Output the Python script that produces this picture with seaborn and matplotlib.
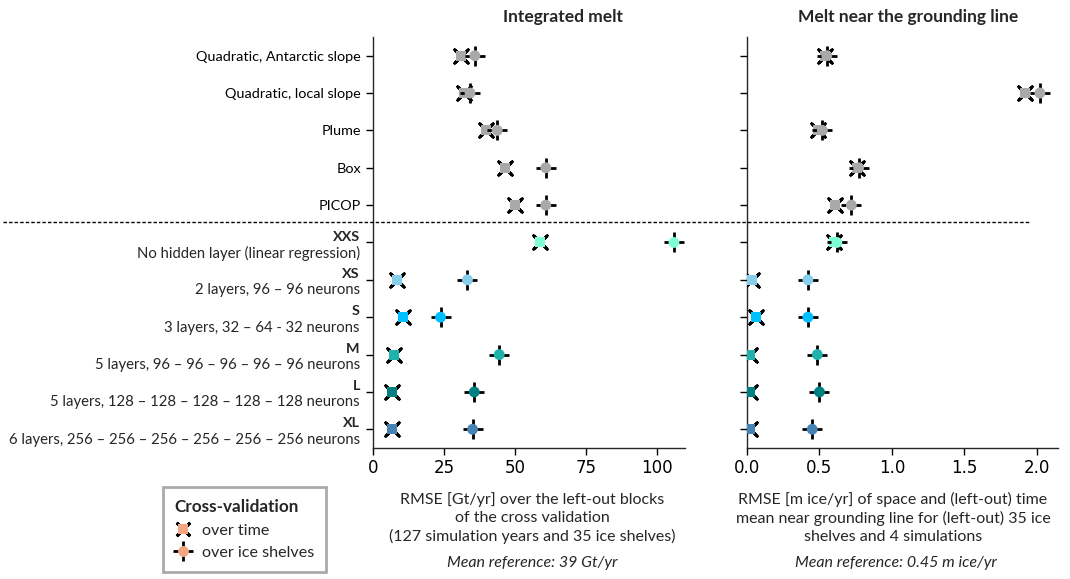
import numpy as np
import pandas as pd
import matplotlib
matplotlib.use("Agg")
import matplotlib.pyplot as plt
import seaborn as sns
from matplotlib import transforms
from matplotlib.lines import Line2D
from matplotlib.legend_handler import HandlerTuple

# ---------------- data ----------------
rows = ["Quadratic, Antarctic slope", "Quadratic, local slope", "Plume", "Box", "PICOP",
        "XXS", "XS", "S", "M", "L", "XL"]
nn_desc = ["No hidden layer (linear regression)",
           "2 layers, 96 \u2013 96 neurons",
           "3 layers, 32 \u2013 64 - 32 neurons",
           "5 layers, 96 \u2013 96 \u2013 96 \u2013 96 \u2013 96 neurons",
           "5 layers, 128 \u2013 128 \u2013 128 \u2013 128 \u2013 128 neurons",
           "6 layers, 256 \u2013 256 \u2013 256 \u2013 256 \u2013 256 \u2013 256 neurons"]
colors = ["darkgray"] * 5 + ["aquamarine", "skyblue", "deepskyblue",
                             "lightseagreen", "teal", "steelblue"]

int_time = [31.2, 32.2, 39.7, 46.5, 50.0, 58.8, 8.3, 10.7, 7.4, 6.8, 6.6]
int_shelves = [35.9, 34.2, 43.8, 60.9, 60.9, 106.1, 33.3, 23.8, 44.5, 35.7, 35.1]
gl_time = [0.54, 1.92, 0.49, 0.76, 0.61, 0.60, 0.035, 0.06, 0.023, 0.023, 0.023]
gl_shelves = [0.55, 2.02, 0.52, 0.77, 0.72, 0.62, 0.42, 0.42, 0.485, 0.50, 0.45]

int_ticks = [0, 25, 50, 75, 100]
gl_ticks = [0.0, 0.5, 1.0, 1.5, 2.0]

df = pd.DataFrame({"row": rows, "int_time": int_time, "int_shelves": int_shelves,
                   "gl_time": gl_time, "gl_shelves": gl_shelves})
palette = dict(zip(rows, colors))

# ---------------- style ----------------
sns.set_theme(style="ticks")
plt.rcParams['font.family'] = ['Lato', 'DejaVu Sans']
plt.rcParams['axes.linewidth'] = 1.0

FS_Y = 10.4
FS_D = 10.7
FS_X = 11.5
S_CROSS = 13.7 ** 2
S_SQ = 7.2 ** 2
S_CIRC = 7.8 ** 2
LW = 2.0

fig = plt.figure(figsize=(10.7, 5.79), dpi=100)
ax1 = fig.add_axes([0.3486, 0.2263, 0.2916, 0.7098])
ax2 = fig.add_axes([0.6981, 0.2263, 0.2907, 0.7098])


def draw(ax, col_time, col_shelves):
    sns.scatterplot(data=df, x=col_time, y="row", marker=(4, 2, 45), color="black",
                    s=S_CROSS, linewidth=LW, ax=ax, zorder=3)
    sns.scatterplot(data=df, x=col_time, y="row", hue="row", palette=palette, marker="s",
                    s=S_SQ, linewidth=0, legend=False, ax=ax, zorder=4)
    sns.scatterplot(data=df, x=col_shelves, y="row", marker="+", color="black",
                    s=S_CROSS, linewidth=LW, ax=ax, zorder=5)
    sns.scatterplot(data=df, x=col_shelves, y="row", hue="row", palette=palette, marker="o",
                    s=S_CIRC, linewidth=0, legend=False, ax=ax, zorder=6)
    ax.set_ylim(len(rows) - 0.5, -0.5)
    ax.set_yticks(range(len(rows)))
    ax.set_xlabel("")
    ax.set_ylabel("")
    sns.despine(ax=ax)
    ax.tick_params(axis='y', length=5, width=1, pad=3.5, labelsize=FS_Y, colors='black')
    ax.tick_params(axis='x', length=5, width=1, pad=3, labelsize=12, colors='black')


draw(ax1, "int_time", "int_shelves")
draw(ax2, "gl_time", "gl_shelves")

ax1.set_xlim(0, 110)
ax2.set_xlim(0, 2.145)
ax1.set_xticks(int_ticks)
ax2.set_xticks(gl_ticks)
for ax in (ax1, ax2):
    for lbl in ax.get_xticklabels():
        lbl.set_fontfamily('DejaVu Sans')

ax1.set_yticklabels(rows[:5] + [""] * 6)
ax2.set_yticklabels([""] * len(rows))
ax2.tick_params(axis='y', labelleft=False)

ytr = ax1.get_yaxis_transform()
for i in range(5, len(rows)):
    ax1.annotate(rows[i], xy=(0, i), xycoords=ytr, xytext=(-9.5, 4.3),
                 textcoords='offset points', ha='right', va='center',
                 fontweight='bold', fontsize=FS_Y)
    ax1.annotate(nn_desc[i - 5], xy=(0, i), xycoords=ytr, xytext=(-9.5, -7.6),
                 textcoords='offset points', ha='right', va='center', fontsize=FS_D)

# dashed separator
btr = transforms.blended_transform_factory(fig.transFigure, ax1.transData)
fig.add_artist(Line2D([0.003, 0.962], [4.45, 4.45], transform=btr, color='black',
                      lw=1.0, dashes=(2.5, 1.5)))

# titles
fig.text(563 / 1070, 1 - 17 / 579, "Integrated melt", ha='center', va='center',
         fontweight='bold', fontsize=12.5)
fig.text(908 / 1070, 1 - 17 / 579, "Melt near the grounding line", ha='center',
         va='center', fontweight='bold', fontsize=12.5)

# x labels
fig.text(532 / 1070, 1 - 518 / 579,
         "RMSE [Gt/yr] over the left-out blocks\nof the cross validation\n"
         "(127 simulation years and 35 ice shelves)",
         ha='center', va='center', fontsize=FS_X, linespacing=1.32)
fig.text(532 / 1070, 1 - 563 / 579, "Mean reference: 39 Gt/yr", ha='center',
         va='center', fontsize=FS_X, style='italic')
fig.text(893 / 1070, 1 - 518 / 579,
         "RMSE [m ice/yr] of space and (left-out) time\nmean near grounding line for "
         "(left-out) 35 ice\nshelves and 4 simulations",
         ha='center', va='center', fontsize=FS_X, linespacing=1.32)
fig.text(896 / 1070, 1 - 563 / 579, "Mean reference: 0.45 m ice/yr", ha='center',
         va='center', fontsize=FS_X, style='italic')

# legend
LEG_COLOR = "#f4a582"
h_time = (Line2D([], [], ls='', marker=(4, 2, 45), color='black', ms=13.7, mew=LW),
          Line2D([], [], ls='', marker='s', color=LEG_COLOR, ms=7.2, mew=0))
h_shelf = (Line2D([], [], ls='', marker='+', color='black', ms=13.7, mew=LW),
           Line2D([], [], ls='', marker='o', color=LEG_COLOR, ms=7.8, mew=0))
leg = fig.legend([h_time, h_shelf], ["over time", "over ice shelves"],
                 handler_map={tuple: HandlerTuple(ndivide=1)},
                 loc='lower left', bbox_to_anchor=(0.152, 0.012), borderaxespad=0,
                 title="Cross-validation",
                 title_fontproperties={'weight': 'bold', 'size': 12.3},
                 fontsize=11.6, frameon=True, fancybox=False, framealpha=1,
                 edgecolor='#aaaaaa', handlelength=1.0, handletextpad=0.7,
                 borderpad=0.75, labelspacing=0.5)
leg.get_frame().set_linewidth(2)
leg._legend_box.align = "left"

fig.savefig("out.png", dpi=100)
